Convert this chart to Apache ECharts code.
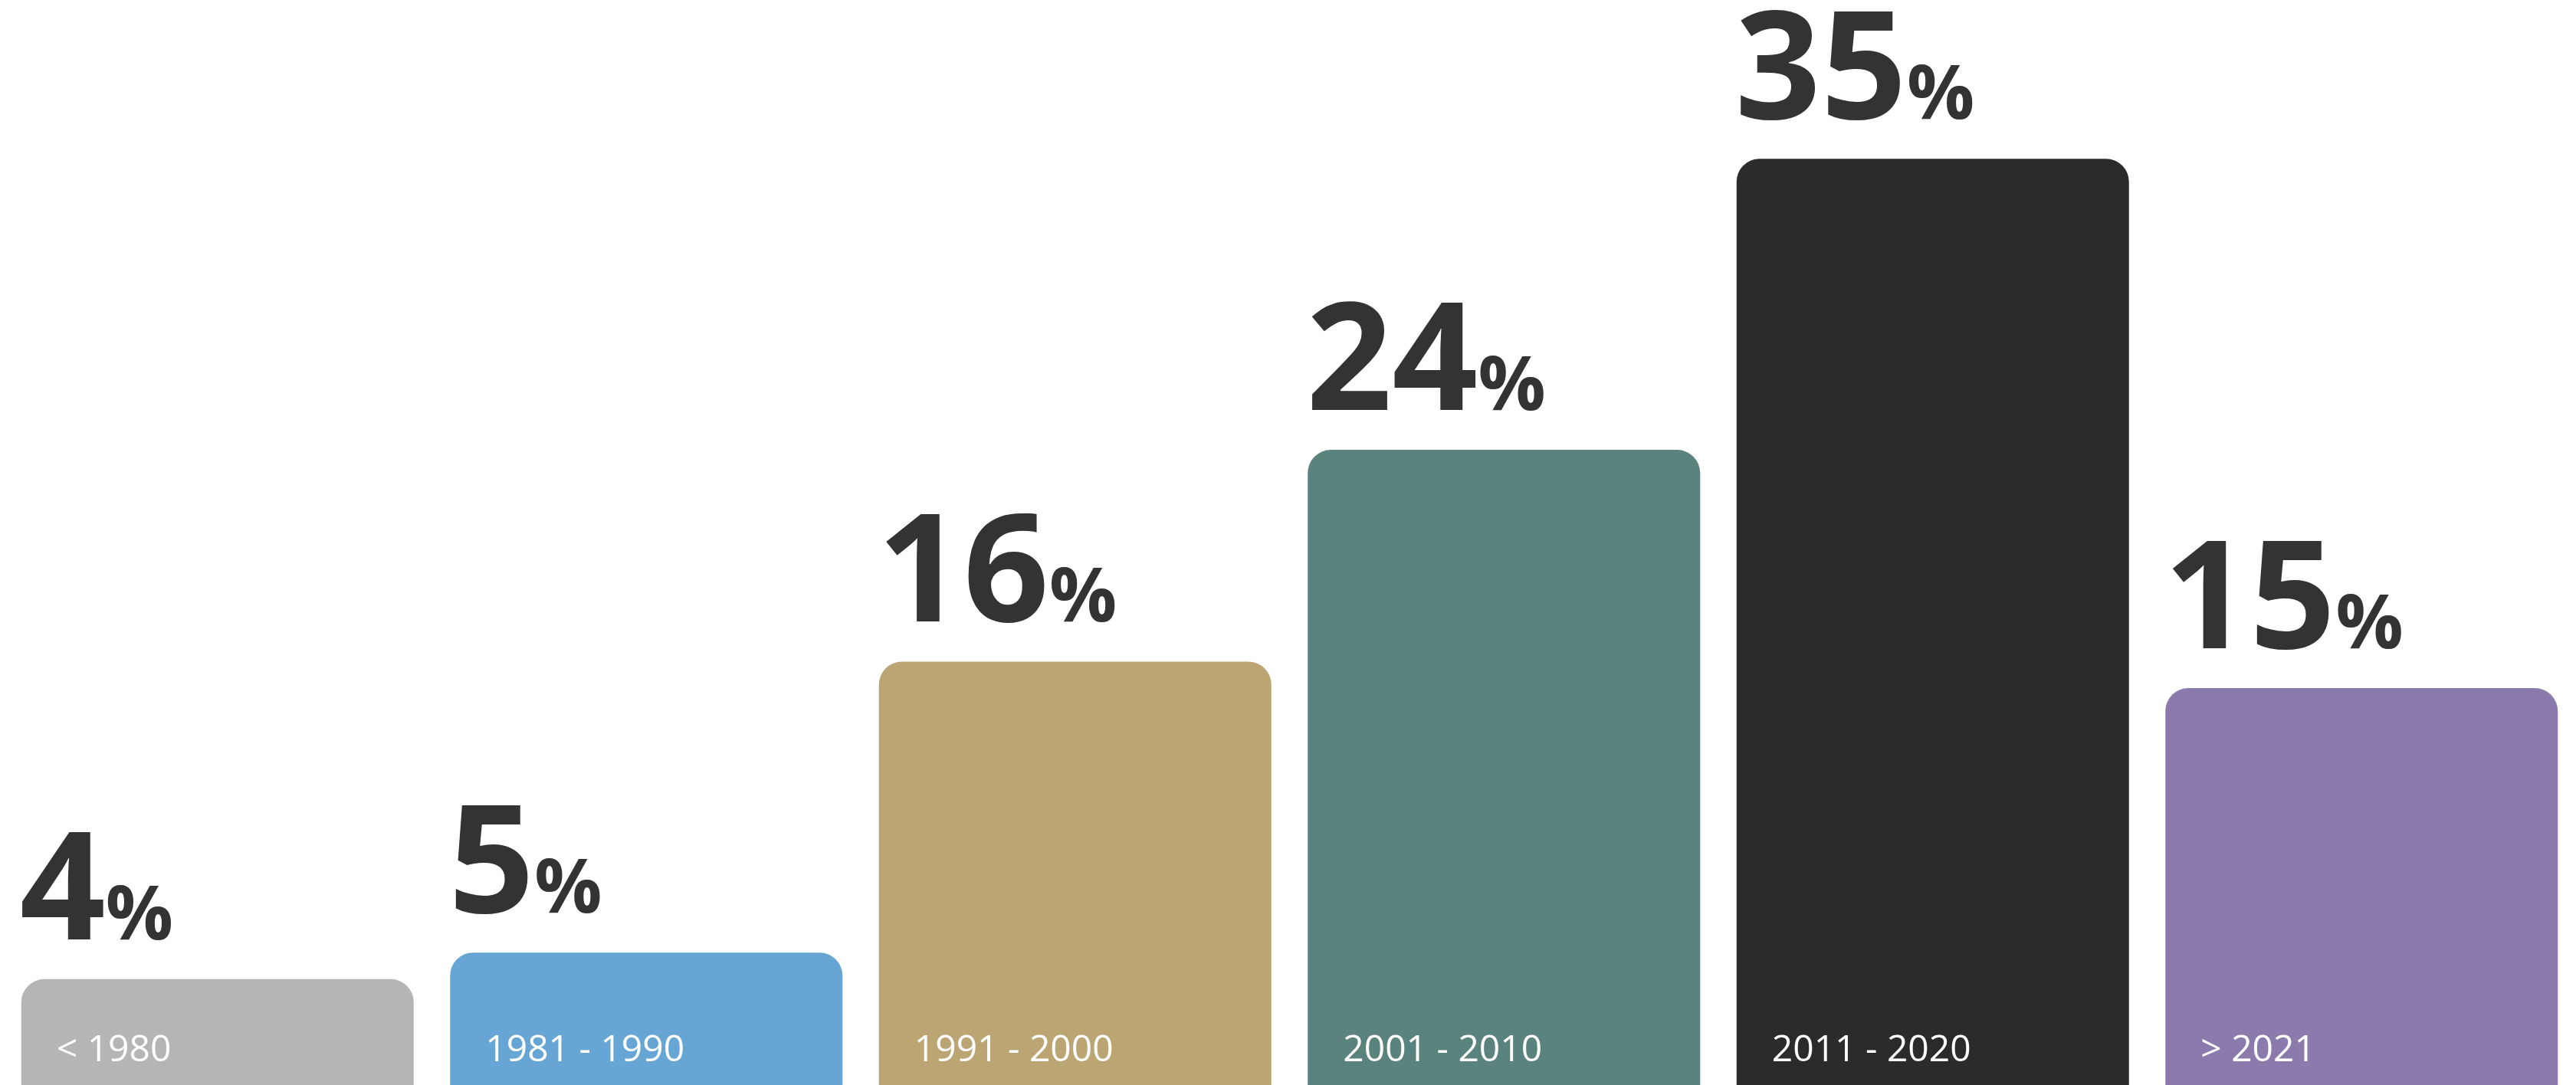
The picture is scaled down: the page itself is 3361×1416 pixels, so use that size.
<!DOCTYPE html>
<html>
<head>
<meta charset="utf-8">
<script src="https://cdn.jsdelivr.net/npm/echarts@6/dist/echarts.min.js"></script>
<style>
  html, body { margin: 0; padding: 0; background: #ffffff; }
  #chart { width: 3361px; height: 1416px; }
</style>
</head>
<body>
<div id="chart"></div>
<script>
// Construction periods and their share of the total
const categories = ['< 1980', '1981 - 1990', '1991 - 2000', '2001 - 2010', '2011 - 2020', '> 2021'];
const shares = [4, 5, 16, 24, 35, 15];
const barColors = ['#b5b5b5', '#67a6d4', '#bba673', '#5a837d', '#2b2b2b', '#8b7bad'];

const chart = echarts.init(document.getElementById('chart'), null, { renderer: 'canvas' });

const valueData = shares.map((v, i) => ({ value: v, itemStyle: { color: barColors[i] } }));
const nameData = shares.map((v, i) => ({ value: v, name: categories[i] }));

chart.setOption({
  animation: false,
  backgroundColor: '#ffffff',
  grid: { left: 4, right: 0, top: 0, bottom: 0, containLabel: false },
  xAxis: {
    type: 'category',
    data: categories,
    show: false
  },
  yAxis: {
    type: 'value',
    min: 0,
    max: 41,
    show: false
  },
  series: [
    {
      // coloured bars with the percentage written above each one
      type: 'bar',
      data: valueData,
      barWidth: 512,
      itemStyle: { borderRadius: [30, 30, 0, 0] },
      label: {
        show: true,
        position: [-2, -10],
        align: 'left',
        verticalAlign: 'bottom',
        formatter: p => '{v|' + p.value + '}{p|%}',
        rich: {
          v: {
            fontFamily: 'Open Sans',
            fontWeight: 'bold',
            fontSize: 196,
            color: '#333333',
            verticalAlign: 'bottom'
          },
          p: {
            fontFamily: 'Open Sans',
            fontWeight: 'bold',
            fontSize: 98,
            color: '#333333',
            verticalAlign: 'bottom',
            padding: [0, 0, 21, 0]
          }
        }
      }
    },
    {
      // transparent twin carrying the period name near the foot of each bar
      type: 'bar',
      data: nameData,
      barWidth: 512,
      barGap: '-100%',
      itemStyle: { color: 'rgba(0,0,0,0)' },
      silent: true,
      label: {
        show: true,
        position: [46, '100%'],
        offset: [0, -21],
        align: 'left',
        verticalAlign: 'bottom',
        formatter: p => p.name,
        fontFamily: 'Open Sans',
        fontSize: 48,
        color: '#ffffff'
      }
    }
  ]
});
</script>
</body>
</html>
